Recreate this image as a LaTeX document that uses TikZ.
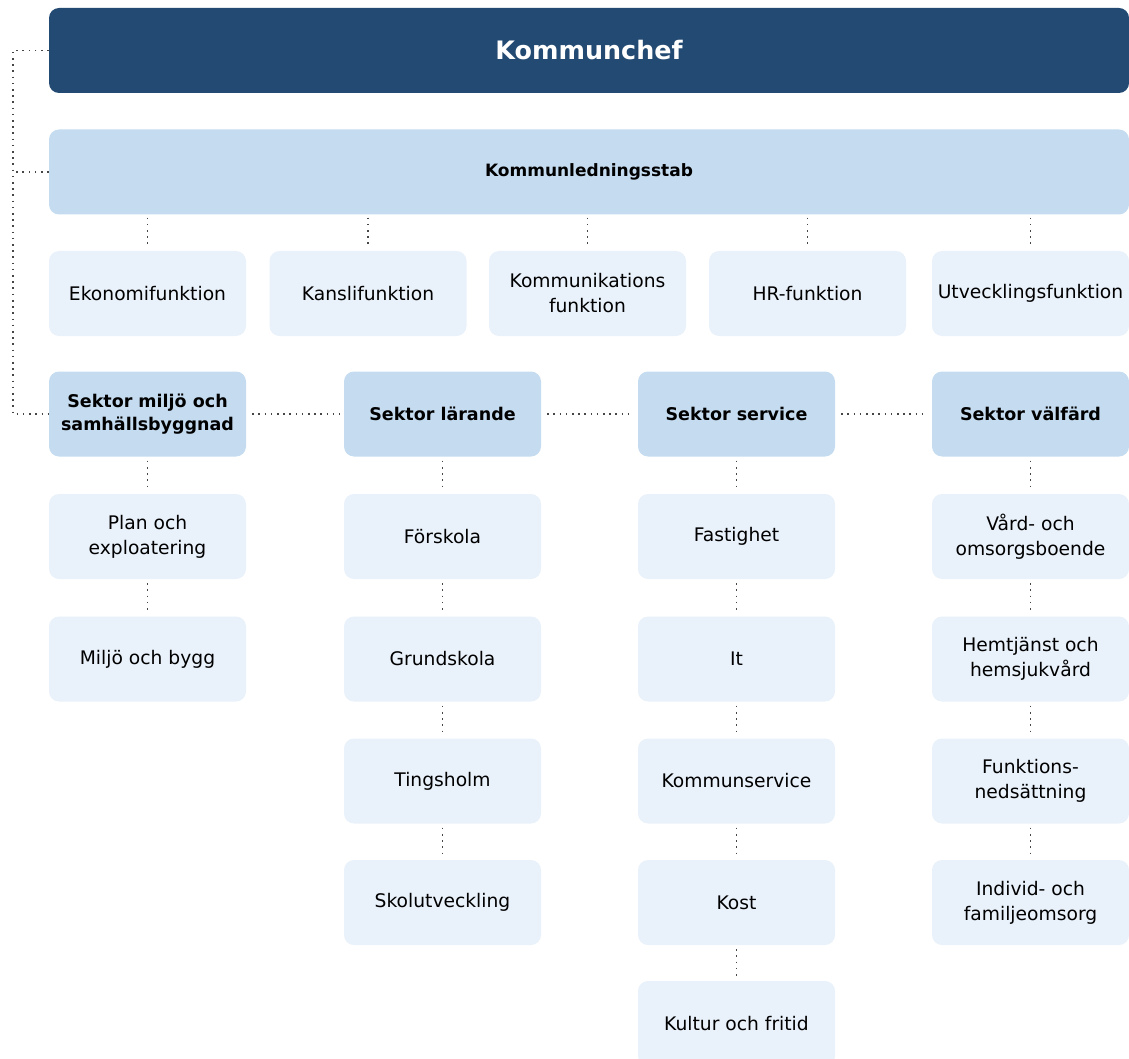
\documentclass[tikz,border=0pt]{standalone}
\usepackage{fontspec}
\setmainfont{DejaVu Sans}
\usetikzlibrary{positioning}
\definecolor{chefblue}{RGB}{35,74,114}
\definecolor{sektorblue}{RGB}{197,220,240}
\definecolor{enhetblue}{RGB}{233,241,250}
\definecolor{dotgray}{RGB}{70,70,70}
\tikzset{
  box/.style={rectangle, rounded corners=10pt, minimum width=197pt, minimum height=85pt, align=center, inner sep=2pt, text=black},
  chefbox/.style={box, fill=chefblue, text=white, minimum width=1080pt, font=\bfseries\fontsize{25.4}{30}\selectfont},
  stabbox/.style={box, fill=sektorblue, minimum width=1080pt, font=\bfseries\fontsize{17}{23}\selectfont},
  sektorbox/.style={box, fill=sektorblue, font=\bfseries\fontsize{17.5}{23}\selectfont},
  enhetbox/.style={box, fill=enhetblue, font=\fontsize{18.7}{25}\selectfont},
  dots/.style={draw=dotgray, line width=1.6pt, dash pattern=on 1.6pt off 4.6pt, line cap=butt},
}

\begin{document}
\begin{tikzpicture}[x=1pt, y=-1pt]
			%%%%% START %%%%%
			\useasboundingbox (0,0) rectangle (1129,1059);
			\clip (0,0) rectangle (1129,1059);
			
			\node[chefbox] (chef) at (589, 50.5) {Kommunchef};
			\node[stabbox] (stab) at (589, 172) {Kommunledningsstab};
			
			% funktioner
			\node[enhetbox] (eko) at (147.5, 293.5) {Ekonomifunktion};
			\node[enhetbox] (kansli) at (368, 293.5) {Kanslifunktion};
			\node[enhetbox] (komm) at (587.5, 293.5) {Kommunikations\\funktion};
			\node[enhetbox] (hr) at (807.5, 293.5) {HR-funktion};
			\node[enhetbox] (utv) at (1030.5, 293.5) {Utvecklingsfunktion};
			
			% sektorer
			\node[sektorbox] (miljo) at (147.5, 414) {Sektor miljö och\\samhällsbyggnad};
			\node[sektorbox] (larande) at (442.5, 414) {Sektor lärande};
			\node[sektorbox] (service) at (736.5, 414) {Sektor service};
			\node[sektorbox] (valfard) at (1030.5, 414) {Sektor välfärd};
			
			% miljo och samhallsbyggnad
			\node[enhetbox] (plan) at (147.5, 536.5) {Plan och\\exploatering};
			\node[enhetbox] (bygg) at (147.5, 659) {Miljö och bygg};
			
			% larande
			\node[enhetbox] (forskola) at (442.5, 536.5) {Förskola};
			\node[enhetbox] (grundskola) at (442.5, 659) {Grundskola};
			\node[enhetbox] (tingsholm) at (442.5, 781) {Tingsholm};
			\node[enhetbox] (skolutv) at (442.5, 902.5) {Skolutveckling};
			
			% service
			\node[enhetbox] (fastighet) at (736.5, 536.5) {Fastighet};
			\node[enhetbox] (it) at (736.5, 659) {It};
			\node[enhetbox] (kservice) at (736.5, 781) {Kommunservice};
			\node[enhetbox] (kost) at (736.5, 902.5) {Kost};
			\node[enhetbox] (kultur) at (736.5, 1023.5) {Kultur och fritid};
			
			% valfard
			\node[enhetbox] (vard) at (1030.5, 536.5) {Vård- och\\omsorgsboende};
			\node[enhetbox] (hemtjanst) at (1030.5, 659) {Hemtjänst och\\hemsjukvård};
			\node[enhetbox] (funktion) at (1030.5, 781) {Funktions-\\nedsättning};
			\node[enhetbox] (individ) at (1030.5, 902.5) {Individ- och\\familjeomsorg};
			
			% linjer
			\coordinate (spine) at (13, 0);
			\draw[dots] (chef.west) -| (spine |- miljo.west) -- (miljo.west);
			\draw[dots] (stab.west) -- (stab.west -| spine);
			
			\foreach \f in {eko, kansli, komm, hr, utv}
				\draw[dots, shorten <=3pt, shorten >=3pt] (stab.south -| \f.north) -- (\f.north);
			
			\draw[dots, shorten <=6pt, shorten >=4pt] (miljo.east) -- (larande.west);
			\draw[dots, shorten <=6pt, shorten >=4pt] (larande.east) -- (service.west);
			\draw[dots, shorten <=6pt, shorten >=4pt] (service.east) -- (valfard.west);
			
			\foreach \a/\b in {miljo/plan, plan/bygg,
				larande/forskola, forskola/grundskola, grundskola/tingsholm, tingsholm/skolutv,
				service/fastighet, fastighet/it, it/kservice, kservice/kost, kost/kultur,
				valfard/vard, vard/hemtjanst, hemtjanst/funktion, funktion/individ}
				\draw[dots, shorten <=4pt, shorten >=4pt] (\a.south) -- (\b.north);
			
			%%%%% END %%%%%
\end{tikzpicture}
\end{document}
